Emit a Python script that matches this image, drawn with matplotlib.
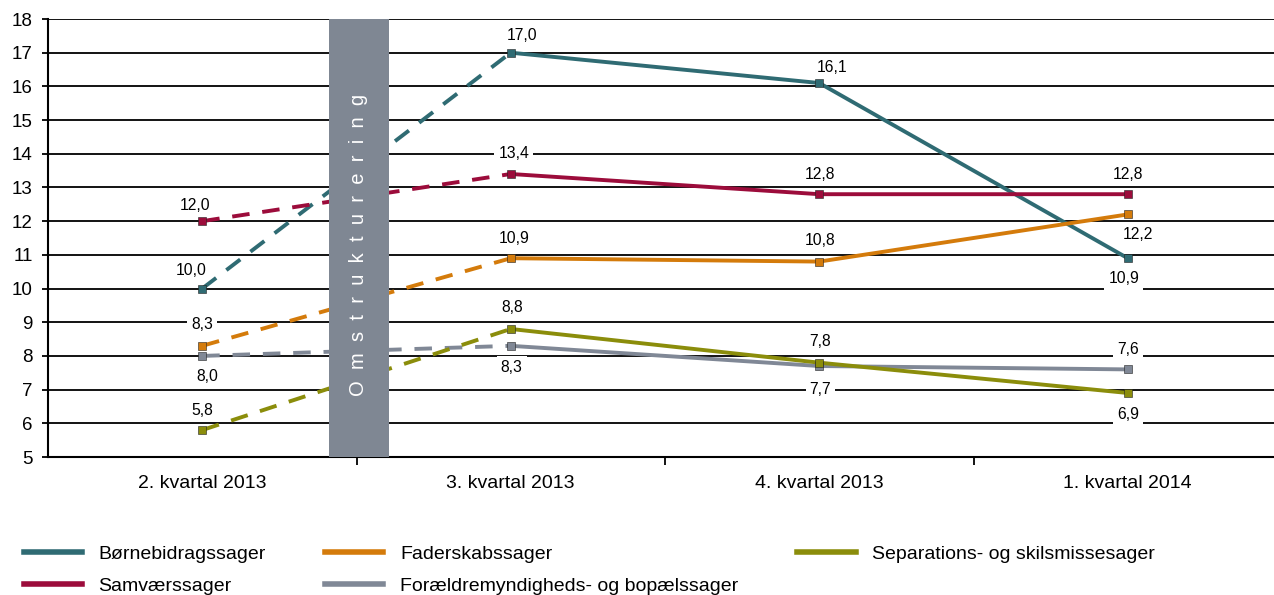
import matplotlib.pyplot as plt
from matplotlib.lines import Line2D

# quarters and series (antal sager, gennemsnit)
quarters = ["2. kvartal 2013", "3. kvartal 2013", "4. kvartal 2013", "1. kvartal 2014"]

series_names = [
    "Børnebidragssager",
    "Samværssager",
    "Faderskabssager",
    "Forældremyndigheds- og bopælssager",
    "Separations- og skilsmissesager",
]
boernebidrag = [10.0, 17.0, 16.1, 10.9]
samvaer = [12.0, 13.4, 12.8, 12.8]
faderskab = [8.3, 10.9, 10.8, 12.2]
foraeldremyndighed = [8.0, 8.3, 7.7, 7.6]
separation = [5.8, 8.8, 7.8, 6.9]

colors = ["#2f6b73", "#9c0c3b", "#d47b0b", "#808896", "#8b8d0b"]

# label offsets in pixels (dx, dy) for each point
label_offsets = [
    [(-11, 18), (11, 17), (13, 16), (-4, -20)],
    [(-7, 16), (3, 20), (1, 20), (0, 20)],
    [(0, 21), (3, 20), (1, 21), (10, -20)],
    [(5, -21), (1, -22), (1, -23), (0, 20)],
    [(0, 20), (1, 21), (1, 21), (0, -22)],
]

plt.rcParams['font.family'] = ['Liberation Sans', 'DejaVu Sans']

W, H = 1274, 595
fig = plt.figure(figsize=(W / 100, H / 100), dpi=100)
ax = fig.add_axes([48 / W, (H - 457) / H, 1234 / W, (457 - 19) / H])

all_series = [boernebidrag, samvaer, faderskab, foraeldremyndighed, separation]
x = list(range(len(quarters)))

for name, vals, col, offs in zip(series_names, all_series, colors, label_offsets):
    # dashed across the restructuring, solid afterwards
    ax.plot(x[:2], vals[:2], color=col, lw=2.8, ls=(0, (4.5, 3.3)), zorder=3)
    ax.plot(x[1:], vals[1:], color=col, lw=2.8, zorder=3)
    ax.plot(x, vals, ls='none', marker='s', ms=6, color=col, mec='#222222',
            mew=0.4, zorder=4)
    for xi, v, (dx, dy) in zip(x, vals, offs):
        ax.annotate(f"{v:.1f}".replace(".", ","), (xi, v), xytext=(dx, dy),
                    textcoords='offset pixels', ha='center', va='center',
                    fontsize=11.3, zorder=2,
                    bbox=dict(boxstyle='square,pad=0.25', fc='white', ec='none'))

# restructuring band
ax.axvspan(0.41, 0.605, color='#7f8793', zorder=5, lw=0)
ax.text(0.508, 11.3, "O  m  s  t  r  u  k  t  u  r  e  r  i  n  g", rotation=90,
        ha='center', va='center', color='white', fontsize=14.5, zorder=6)

ax.set_xlim(-0.5, 3.5)
ax.set_ylim(5, 18)
ax.set_yticks(range(5, 19))
ax.yaxis.grid(True, color='black', lw=1.3, zorder=0)
ax.set_axisbelow(True)
ax.tick_params(axis='y', length=4, width=1.3, labelsize=13.5, pad=7)

ax.set_xticks(x)
ax.set_xticklabels(quarters)
ax.set_xticks([0.5, 1.5, 2.5], minor=True)
ax.tick_params(axis='x', which='major', length=0, labelsize=14, pad=13)
ax.tick_params(axis='x', which='minor', length=6, width=1.3)

for s in ['top', 'right']:
    ax.spines[s].set_visible(False)
ax.spines['left'].set_linewidth(1.5)
ax.spines['bottom'].set_linewidth(1.5)

handles = [Line2D([0], [0], color=c, lw=4) for c in colors]
fig.legend(handles, series_names,
           ncol=3, loc='lower left', bbox_to_anchor=(6 / W, -0.029),
           frameon=False, fontsize=14, handlelength=3.0, handletextpad=0.85,
           columnspacing=3.05, labelspacing=0.75)

fig.savefig("out.png", dpi=100)
